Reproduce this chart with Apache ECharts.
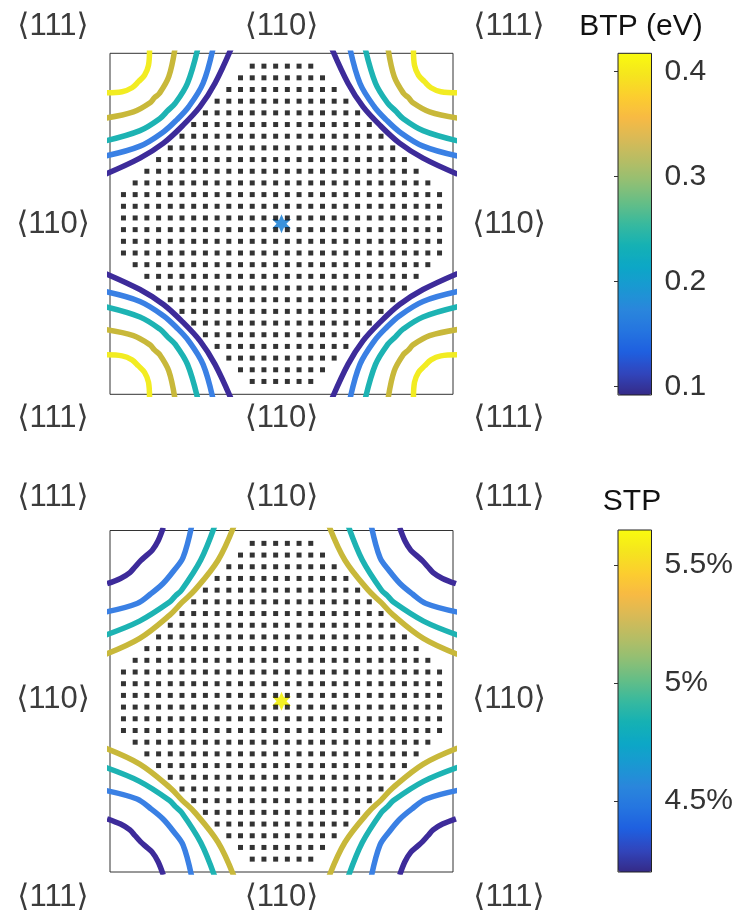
<!DOCTYPE html>
<html><head><meta charset="utf-8">
<script src="https://cdn.jsdelivr.net/npm/echarts@6/dist/echarts.min.js"></script>
<style>html,body{margin:0;padding:0;background:#fff}#c{width:739px;height:917px}</style>
</head><body><div id="c"></div>
<script>
// ---------------- DATA ----------------
// Dot grid (lattice units, half-integer positions): row y values and the half-width |x| max of each row
const dotRowY = [13.5,12.5,11.5,10.5,9.5,8.5,7.5,6.5,5.5,4.5,3.5,2.5,1.5,0.5,-0.5,-1.5,-2.5,-3.5,-4.5,-5.5,-6.5,-7.5,-8.5,-9.5,-10.5,-11.5,-12.5,-13.5];
const dotRowHalfWidth = [2.5,3.5,4.5,5.5,6.5,7.5,8.5,9.5,10.5,11.5,12.5,13.5,13.5,13.5,13.5,13.5,13.5,12.5,11.5,10.5,9.5,8.5,7.5,6.5,5.5,4.5,3.5,2.5];

// BTP contours (top panel), levels in eV, traced in the top-left corner (the pattern is mirror-symmetric)
const btpLevels = [0.1, 0.175, 0.25, 0.325, 0.4];
const btpContour_01  = [[-4.3,15.0],[-5.68,12.04],[-6.96,10.03],[-8.45,8.4],[-10.08,6.91],[-12.09,5.63],[-15.05,4.25]];
const btpContour_175 = [[-5.85,15.0],[-6.7,12.04],[-7.92,10.04],[-8.95,8.9],[-10.09,7.87],[-12.09,6.65],[-15.05,5.8]];
const btpContour_25  = [[-7.15,15.0],[-8.03,12.04],[-9.07,10.33],[-9.73,9.68],[-10.38,9.02],[-12.09,7.98],[-15.05,7.1]];
const btpContour_325 = [[-9.1,15.0],[-9.63,12.6],[-10.42,11.18],[-10.85,10.8],[-11.23,10.37],[-12.65,9.58],[-15.05,9.05]];
const btpContour_4   = [[-11.27,15.03],[-11.36,13.57],[-11.7,12.72],[-12.22,12.17],[-12.77,11.65],[-13.62,11.31],[-15.08,11.22]];
const btpStar = [[0, 0]];

// STP contours (bottom panel), levels in %
const stpLevels = [4.3, 4.6, 4.9, 5.25];
const stpContour_43  = [[-10.1,14.85],[-10.55,13.7],[-11.05,12.9],[-11.55,12.45],[-12.05,12.0],[-12.5,11.5],[-12.95,11.0],[-13.75,10.5],[-14.9,10.05]];
const stpContour_46  = [[-7.67,15.0],[-8.41,12.29],[-9.22,11.14],[-10.12,10.07],[-11.19,9.17],[-12.34,8.36],[-15.05,7.62]];
const stpContour_49  = [[-5.7,15.0],[-6.9,12.08],[-8.53,9.51],[-9.06,9.01],[-9.56,8.48],[-12.13,6.85],[-15.05,5.65]];
const stpContour_525 = [[-4.05,15.0],[-5.42,12.06],[-7.41,9.5],[-8.5,8.45],[-9.55,7.36],[-12.11,5.37],[-15.05,4.0]];
const stpStar = [[0, 0]];

// Colour-bar ranges and ticks
const btpRange = [0.092, 0.4175];
const btpTicks = [0.1, 0.2, 0.3, 0.4];
const stpRange = [4.2, 5.648];
const stpTicks = [4.5, 5, 5.5];

// Direction labels
const cornerLabel = '\u27E8111\u27E9';
const edgeLabel = '\u27E8110\u27E9';

// ---------------- STYLE ----------------
const parula = ['#352a87','#3145bc','#1f5fe0','#2575e0','#2a86dc','#1a98d2','#0ca7c6','#15b1b4','#38b99e','#65be86','#92bf73','#b7bd64','#d9ba56','#f8ba43','#fcce2e','#f5e51e','#f9fb0e'];
const btpColors = ['#3d2b9a','#3a80e4','#1db3b3','#c8b83a','#f2ec22'];
const stpColors = ['#3d2b9a','#3a80e4','#1db3b3','#c8b83a'];
const starPath = 'path://M0,-10 L2.25,-3.9 L8.66,-5 L4.5,0 L8.66,5 L2.25,3.9 L0,10 L-2.25,3.9 L-8.66,5 L-4.5,0 L-8.66,-5 L-2.25,-3.9 Z';

// ---------------- BUILD ----------------
const dots = [];
dotRowY.forEach((y, r) => {
  const hw = dotRowHalfWidth[r];
  for (let x = -hw; x <= hw + 1e-9; x += 1) dots.push([x, y]);
});
const corners = [[1,1],[-1,1],[1,-1],[-1,-1]];
function mirrored(line, sx, sy) { return line.map(p => [p[0]*sx, p[1]*sy]); }

const series = [];
function addContours(lines, colors, gi) {
  lines.forEach((ln, k) => {
    corners.forEach(c => {
      series.push({
        type: 'line', xAxisIndex: gi, yAxisIndex: gi,
        data: mirrored(ln, c[0], c[1]),
        showSymbol: false, symbol: 'none', smooth: 0.35, clip: true, z: 3,
        lineStyle: { color: colors[k], width: 5.5 }
      });
    });
  });
}
addContours([btpContour_01, btpContour_175, btpContour_25, btpContour_325, btpContour_4], btpColors, 0);
addContours([stpContour_43, stpContour_46, stpContour_49, stpContour_525], stpColors, 1);

[0,1].forEach(gi => {
  series.push({
    type: 'scatter', xAxisIndex: gi, yAxisIndex: gi, data: gi === 0 ? btpStar : stpStar,
    symbol: starPath, symbolSize: 19, z: 4,
    itemStyle: { color: gi === 0 ? '#2586d8' : '#f2f00c', opacity: 0.9 }
  });
  series.push({
    type: 'scatter', xAxisIndex: gi, yAxisIndex: gi, data: dots,
    symbol: 'rect', symbolSize: 5, z: 5, itemStyle: { color: '#000' }
  });
});

const hiddenX = (min, max) => ({ type: 'value', min, max, show: false });
const grids = [
  { left: 110, top: 53.3, width: 343, height: 341, show: true, borderColor: '#333', borderWidth: 1, backgroundColor: '#fff' },
  { left: 110, top: 530.5, width: 343, height: 341.5, show: true, borderColor: '#333', borderWidth: 1, backgroundColor: '#fff' },
  { left: 618, top: 53.3, width: 33.5, height: 341.7, show: true, borderColor: '#222', borderWidth: 1, backgroundColor: 'transparent', z: 5 },
  { left: 618, top: 530, width: 33.5, height: 342, show: true, borderColor: '#222', borderWidth: 1, backgroundColor: 'transparent', z: 5 }
];
const cbAxis = (range, ticks, fmt) => ({
  type: 'value', min: range[0], max: range[1], position: 'right', z: 6,
  axisLine: { show: false }, splitLine: { show: false },
  axisTick: { show: true, inside: true, length: 4, customValues: ticks, lineStyle: { color: '#333', width: 1 } },
  axisLabel: { customValues: ticks, formatter: fmt, fontSize: 30, color: '#333', margin: 13, fontFamily: 'Liberation Sans, Arial, sans-serif' }
});

const labelFont = '31px "Liberation Sans", "DejaVu Sans", Arial, sans-serif';
const textEls = [];
function addLabel(txt, x, y) {
  textEls.push({ type: 'text', x, y, style: { text: txt, font: labelFont, fill: '#3c3c3c', align: 'center', verticalAlign: 'middle' }, z: 10 });
}
[[26, 224, 418], [497, 699, 897]].forEach(rows => {
  addLabel(cornerLabel, 53, rows[0]); addLabel(edgeLabel, 281.5, rows[0]); addLabel(cornerLabel, 509, rows[0]);
  addLabel(edgeLabel, 53, rows[1]); addLabel(edgeLabel, 509, rows[1]);
  addLabel(cornerLabel, 53, rows[2]); addLabel(edgeLabel, 281.5, rows[2]); addLabel(cornerLabel, 509, rows[2]);
});
textEls.push({ type: 'text', x: 641, y: 27, style: { text: 'BTP (eV)', font: '30px "Liberation Sans", Arial, sans-serif', fill: '#111', align: 'center', verticalAlign: 'middle' }, z: 10 });
textEls.push({ type: 'text', x: 632, y: 502, style: { text: 'STP', font: '30px "Liberation Sans", Arial, sans-serif', fill: '#111', align: 'center', verticalAlign: 'middle' }, z: 10 });

const option = {
  animation: false,
  backgroundColor: '#fff',
  grid: grids,
  xAxis: [hiddenX(-14.65, 14.65), hiddenX(-14.65, 14.65), hiddenX(0, 1), hiddenX(0, 1)].map((a, i) => Object.assign(a, { gridIndex: i })),
  yAxis: [
    Object.assign(hiddenX(-14.6, 14.6), { gridIndex: 0 }),
    Object.assign(hiddenX(-14.6, 14.6), { gridIndex: 1 }),
    Object.assign(cbAxis(btpRange, btpTicks, v => v.toFixed(1)), { gridIndex: 2 }),
    Object.assign(cbAxis(stpRange, stpTicks, v => String(v) + '%'), { gridIndex: 3 })
  ],
  visualMap: [
    { type: 'continuous', min: btpRange[0], max: btpRange[1], seriesIndex: [], calculable: false, text: null, showLabel: false,
      left: 618, top: 53.3, itemWidth: 33.5, itemHeight: 341.7, padding: 0, inRange: { color: parula } },
    { type: 'continuous', min: stpRange[0], max: stpRange[1], seriesIndex: [], calculable: false, text: null, showLabel: false,
      left: 618, top: 530, itemWidth: 33.5, itemHeight: 342, padding: 0, inRange: { color: parula } }
  ],
  graphic: textEls,
  series
};
const chart = echarts.init(document.getElementById('c'), null, { renderer: 'canvas' });
chart.setOption(option);
</script>
</body></html>
